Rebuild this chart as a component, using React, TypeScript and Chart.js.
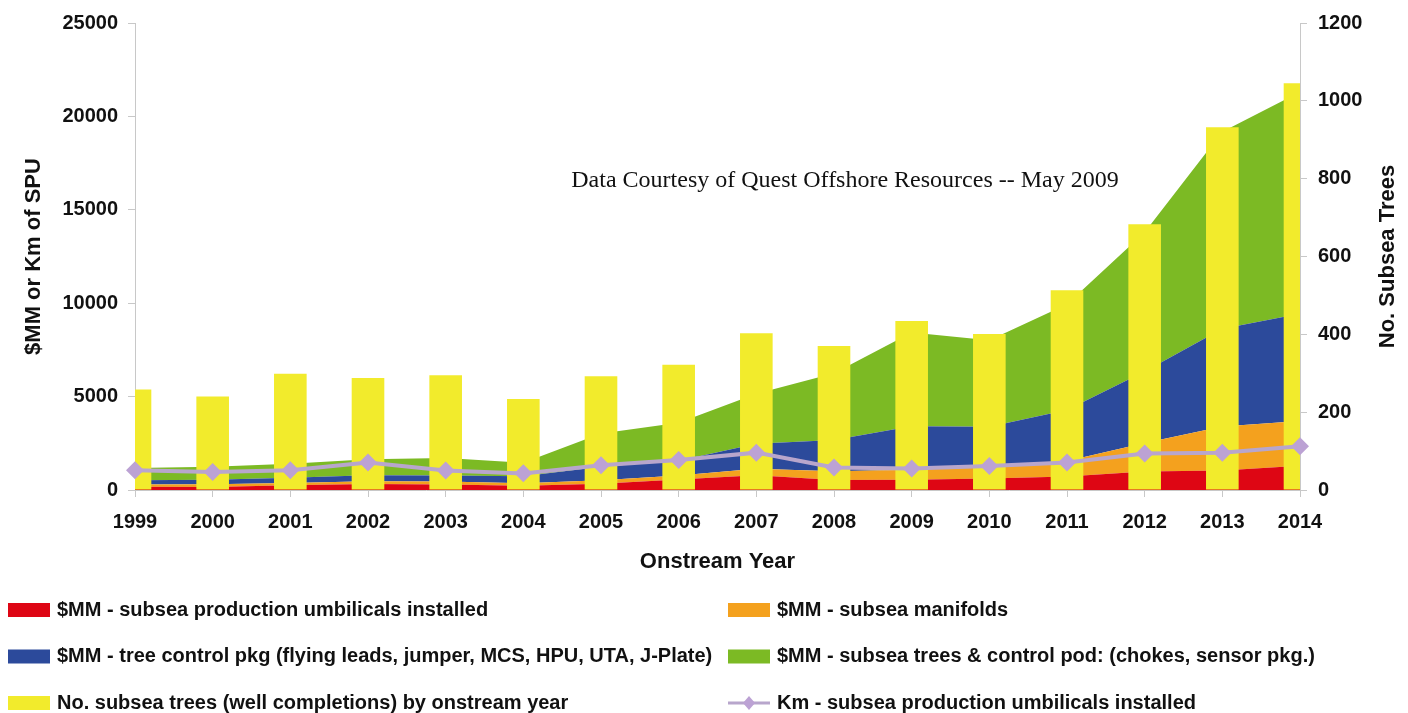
import React, { useEffect, useRef } from "react";
import { Chart, registerables } from "chart.js";

Chart.register(...registerables);

// ---------- data ----------
const years = ["1999", "2000", "2001", "2002", "2003", "2004", "2005", "2006", "2007", "2008", "2009", "2010", "2011", "2012", "2013", "2014"];

// $MM stacked areas (left axis)
const umbilicalsMM = [170, 160, 250, 320, 300, 230, 330, 560, 785, 540, 550, 620, 720, 995, 1050, 1300];
const manifoldsMM = [130, 150, 130, 150, 160, 130, 190, 220, 355, 460, 530, 650, 830, 1525, 2350, 2400];
const treeControlMM = [220, 240, 270, 320, 320, 380, 730, 790, 1340, 1680, 2330, 2120, 2730, 3820, 5230, 5730];
const treesPodMM = [655, 690, 750, 860, 930, 720, 1780, 2030, 2670, 3570, 5020, 4620, 5670, 7460, 10550, 11870];

// No. subsea trees (right axis)
const subseaTrees = [258, 240, 299, 288, 295, 234, 292, 322, 403, 370, 434, 401, 513, 683, 932, 1045];

// Km of umbilicals (left axis)
const umbilicalsKm = [1060, 960, 1060, 1470, 1050, 890, 1330, 1600, 2000, 1200, 1150, 1280, 1470, 1950, 2000, 2340];

const seriesLabels = [
  "$MM - subsea production umbilicals installed",
  "$MM - subsea manifolds",
  "$MM - tree control pkg (flying leads, jumper, MCS, HPU, UTA, J-Plate)",
  "$MM - subsea trees & control pod: (chokes, sensor pkg.)",
  "No. subsea trees (well completions) by onstream year",
  "Km - subsea production umbilicals installed",
];

const leftAxisTitle = "$MM or Km of SPU";
const rightAxisTitle = "No. Subsea Trees";
const xAxisTitle = "Onstream Year";
const sourceNote = "Data Courtesy of Quest Offshore Resources -- May 2009";

const leftMax = 25000;
const leftStep = 5000;
const rightMax = 1200;
const rightStep = 200;

// ---------- styles ----------
const RED = "#de0614";
const ORANGE = "#f4a11e";
const BLUE = "#2c4a9b";
const GREEN = "#7cba24";
const YELLOW = "#f2eb2c";
const PURPLE_LINE = "#b8a6cc";
const PURPLE_PT = "#bca2d4";
const AXIS = "#c8c8c8";
const TXT = "#111111";
const SANS = "'Liberation Sans', Arial, sans-serif";

export default function App() {
  const ref = useRef<HTMLCanvasElement | null>(null);

  useEffect(() => {
    const canvas = ref.current;
    if (!canvas) return;

    const overlay = {
      id: "overlay",
      afterDraw(chart: any) {
        const ctx = chart.ctx as CanvasRenderingContext2D;
        const area = chart.chartArea;
        ctx.save();

        // right axis title (reads bottom-to-top)
        ctx.fillStyle = TXT;
        ctx.font = `bold 22px ${SANS}`;
        ctx.textAlign = "center";
        ctx.textBaseline = "middle";
        ctx.translate(1388, (area.top + area.bottom) / 2);
        ctx.rotate(-Math.PI / 2);
        ctx.fillText(rightAxisTitle, 0, 0);
        ctx.setTransform(1, 0, 0, 1, 0, 0);

        // source note
        ctx.font = `24px 'Liberation Serif', 'Times New Roman', serif`;
        ctx.textAlign = "center";
        ctx.fillText(sourceNote, 845, 181);

        // legend (2 columns x 3 rows)
        ctx.font = `bold 20px ${SANS}`;
        ctx.textAlign = "left";
        ctx.textBaseline = "middle";
        chart.data.datasets.forEach((ds: any, i: number) => {
          const col = i % 2;
          const row = Math.floor(i / 2);
          const x = col === 0 ? 8 : 728;
          const y = 610 + row * 46.5;
          if (ds.isKmLine) {
            ctx.strokeStyle = PURPLE_LINE;
            ctx.lineWidth = 3;
            ctx.beginPath();
            ctx.moveTo(x, y);
            ctx.lineTo(x + 42, y);
            ctx.stroke();
            ctx.fillStyle = PURPLE_PT;
            ctx.beginPath();
            ctx.moveTo(x + 21, y - 7);
            ctx.lineTo(x + 27, y);
            ctx.lineTo(x + 21, y + 7);
            ctx.lineTo(x + 15, y);
            ctx.closePath();
            ctx.fill();
          } else {
            ctx.fillStyle = ds.backgroundColor;
            ctx.fillRect(x, y - 7, 42, 14);
          }
          ctx.fillStyle = TXT;
          ctx.fillText(ds.label, x + 49, y);
        });
        ctx.restore();
      },
    };

    const areaDs = (label: string, data: number[], color: string, fill: any) => ({
      type: "line" as const,
      label,
      data,
      backgroundColor: color,
      borderColor: "rgba(0,0,0,0)",
      borderWidth: 1,
      pointRadius: 0,
      tension: 0,
      fill,
      yAxisID: "y",
      stack: "cost",
      order: 2,
    });

    const plainTick = (v: any) => String(v);

    const chart = new Chart(canvas, {
      type: "bar",
      data: {
        labels: years,
        datasets: [
          areaDs(seriesLabels[0], umbilicalsMM, RED, "origin"),
          areaDs(seriesLabels[1], manifoldsMM, ORANGE, "-1"),
          areaDs(seriesLabels[2], treeControlMM, BLUE, "-1"),
          areaDs(seriesLabels[3], treesPodMM, GREEN, "-1"),
          {
            type: "bar",
            label: seriesLabels[4],
            data: subseaTrees,
            backgroundColor: YELLOW,
            yAxisID: "y1",
            categoryPercentage: 1,
            barPercentage: 0.42,
            order: 1,
          },
          {
            type: "line",
            label: seriesLabels[5],
            data: umbilicalsKm,
            borderColor: PURPLE_LINE,
            borderWidth: 4,
            backgroundColor: PURPLE_PT,
            pointStyle: "rectRot",
            pointRadius: 9,
            pointBorderWidth: 0,
            pointBackgroundColor: PURPLE_PT,
            tension: 0,
            fill: false,
            yAxisID: "y",
            stack: "km",
            order: 0,
            clip: false,
            isKmLine: true,
          } as any,
        ] as any,
      },
      options: {
        responsive: false,
        animation: false,
        events: [],
        layout: { padding: { left: 0, right: 0, top: 20, bottom: 128 } },
        plugins: {
          legend: { display: false },
          tooltip: { enabled: false },
          title: { display: false },
        },
        scales: {
          x: {
            type: "category",
            offset: false,
            grid: { offset: false, drawOnChartArea: false, color: AXIS, tickLength: 7 },
            border: { color: AXIS },
            ticks: {
              color: TXT,
              font: { family: SANS, size: 20, weight: "bold" },
              padding: 13,
              maxRotation: 0,
              autoSkip: false,
            },
            title: {
              display: true,
              text: xAxisTitle,
              color: TXT,
              font: { family: SANS, size: 22, weight: "bold" },
              padding: { top: 4, bottom: 10 },
            },
            afterFit: (s: any) => {
              s.height = 95;
            },
          },
          y: {
            type: "linear",
            position: "left",
            stacked: true,
            min: 0,
            max: leftMax,
            ticks: {
              stepSize: leftStep,
              color: TXT,
              font: { family: SANS, size: 20, weight: "bold" },
              padding: 10,
              callback: plainTick,
            },
            grid: { drawOnChartArea: false, color: AXIS, tickLength: 7 },
            border: { color: AXIS },
            title: {
              display: true,
              text: leftAxisTitle,
              color: TXT,
              font: { family: SANS, size: 22, weight: "bold" },
              padding: { top: 21, bottom: 0 },
            },
            afterFit: (s: any) => {
              s.width = 135;
            },
          },
          y1: {
            type: "linear",
            position: "right",
            min: 0,
            max: rightMax,
            ticks: {
              stepSize: rightStep,
              color: TXT,
              font: { family: SANS, size: 20, weight: "bold" },
              padding: 11,
              callback: plainTick,
            },
            grid: { drawOnChartArea: false, color: AXIS, tickLength: 7 },
            border: { color: AXIS },
            afterFit: (s: any) => {
              s.width = 108;
            },
          },
        },
      } as any,
      plugins: [overlay],
    });

    return () => {
      chart.destroy();
    };
  }, []);

  return (
    <div style={{ position: "fixed", left: 0, top: 0, width: 1408, height: 713, background: "#ffffff" }}>
      <canvas ref={ref} width={1408} height={713} style={{ display: "block", width: 1408, height: 713 }} />
    </div>
  );
}
